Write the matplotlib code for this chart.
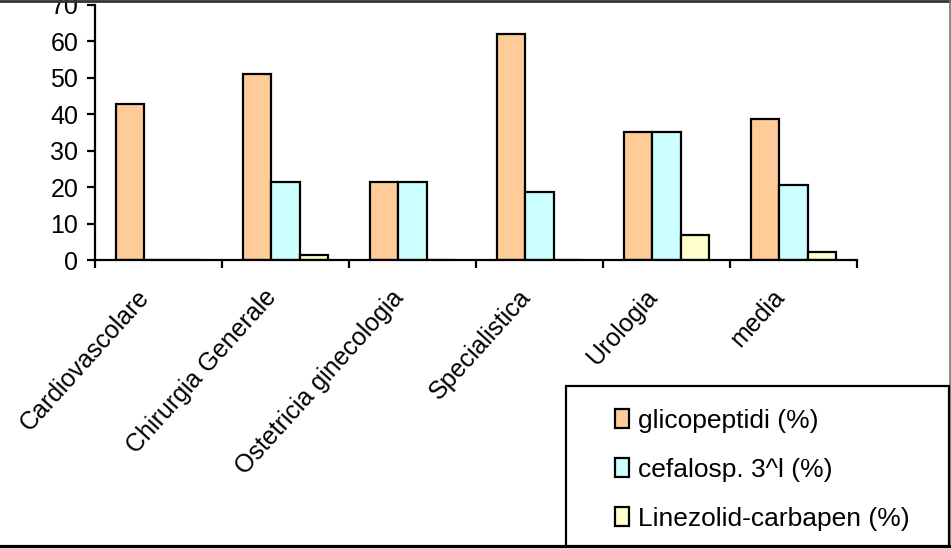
import matplotlib
matplotlib.use("Agg")
import matplotlib.pyplot as plt
import numpy as np
from matplotlib.patches import Rectangle
from matplotlib.lines import Line2D
from matplotlib.transforms import ScaledTranslation

plt.rcParams['font.family'] = ['Liberation Sans', 'DejaVu Sans']

categories = ["Cardiovascolare", "Chirurgia Generale", "Ostetricia ginecologia",
              "Specialistica", "Urologia", "media"]
series_names = ["glicopeptidi (%)", "cefalosp. 3^l (%)", "Linezolid-carbapen (%)"]
glicopeptidi = [42.9, 51.0, 21.4, 62.1, 35.1, 38.6]
cefalosporine = [0.0, 21.3, 21.4, 18.6, 35.1, 20.7]
linezolid = [0.0, 1.5, 0.0, 0.0, 6.8, 2.1]
yticks = [0, 10, 20, 30, 40, 50, 60, 70]

colors = ["#FFCC99", "#CCFFFF", "#FFFFCC"]

W, H = 951, 548
fig = plt.figure(figsize=(W / 100, H / 100), dpi=100)
ax = fig.add_axes([95 / W, (H - 260) / H, (857 - 95) / W, (260 - 5) / H])

n = len(categories)
x = np.arange(n)
bw = 1 / 4.5
for i, (vals, c, name) in enumerate(zip([glicopeptidi, cefalosporine, linezolid], colors, series_names)):
    pos = x + (i - 1) * bw
    ax.bar(pos, vals, width=bw, color=c, edgecolor="black", linewidth=1.6,
           label=name, zorder=2)

ax.set_xlim(-0.5, n - 0.5)
ax.set_ylim(0, 70)
ax.set_yticks(yticks)
ax.tick_params(axis='y', direction='out', length=6, width=1.6, pad=6, labelsize=18)

ax.set_xticks(x)
ax.set_xticklabels(categories, rotation=48, ha='right', va='center',
                   rotation_mode='anchor', fontsize=18)
ax.tick_params(axis='x', which='major', length=0, pad=24)
shift = ScaledTranslation(-13 / 100, 0, fig.dpi_scale_trans)
for lbl in ax.get_xticklabels():
    lbl.set_transform(lbl.get_transform() + shift)
ax.set_xticks(np.arange(n + 1) - 0.5, minor=True)
ax.tick_params(axis='x', which='minor', direction='out', length=6, width=1.6)

for s in ['top', 'right']:
    ax.spines[s].set_visible(False)
for s in ['left', 'bottom']:
    ax.spines[s].set_linewidth(1.6)

# outer frame lines of the chart area
fig.add_artist(Line2D([0, 1], [1 - 1 / H, 1 - 1 / H], transform=fig.transFigure,
                      color="#333333", linewidth=2.0))
fig.add_artist(Line2D([949.5 / W, 949.5 / W], [0, 1], transform=fig.transFigure,
                      color="#777777", linewidth=1.2))
fig.add_artist(Line2D([0, 1], [1.5 / H, 1.5 / H], transform=fig.transFigure,
                      color="black", linewidth=3.0))

# legend box
fig.add_artist(Rectangle((566 / W, 2 / H), (949 - 566) / W, (545 - 385) / H,
                         transform=fig.transFigure, facecolor="white",
                         edgecolor="black", linewidth=1.6, zorder=5))
leg = fig.legend(loc='upper left', bbox_to_anchor=(604 / W, 1 - 398 / H),
                 frameon=False, fontsize=19, handlelength=0.55, handleheight=0.75,
                 handletextpad=0.35, labelspacing=0.95, borderaxespad=0)
leg.set_zorder(6)
for p in leg.get_patches():
    p.set_linewidth(1.6)

fig.savefig("out.png", dpi=100)
